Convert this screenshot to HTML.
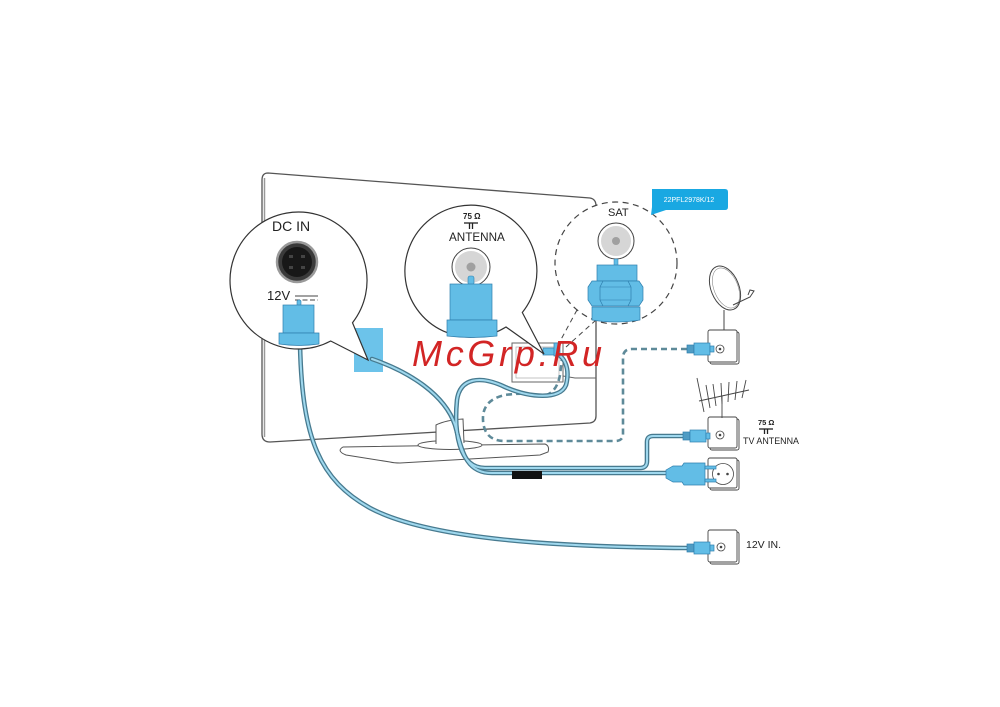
<!DOCTYPE html>
<html><head><meta charset="utf-8"><style>
html,body{margin:0;padding:0;background:#fff;}
svg{display:block;}
text{font-family:"Liberation Sans",sans-serif;}
</style></head><body>
<svg width="1000" height="707" viewBox="0 0 1000 707" xmlns="http://www.w3.org/2000/svg">
<rect width="1000" height="707" fill="#fff"/>

<!-- TV back -->
<path d="M268,173 L590,198 Q596,199 596,206 L596,416 Q596,422 590,423 L270,442 Q262,442 262,434 L262,180 Q262,173 268,173 Z" fill="#fff" stroke="#555" stroke-width="1.3"/>
<line x1="264.5" y1="178" x2="264.5" y2="437" stroke="#999" stroke-width="1.5"/>
<!-- connector panel -->
<rect x="512" y="343" width="51" height="39" fill="#fff" stroke="#666" stroke-width="1"/>
<rect x="516" y="347" width="43" height="31" fill="none" stroke="#aaa" stroke-width="0.7"/>
<polyline points="563,376 575,378 596,378" fill="none" stroke="#666" stroke-width="0.9"/>

<!-- stand -->
<path d="M343,447 L545,444 Q550,446 548,452 L540,455 L400,463 Q394,463 390,462 L346,455 Q336,451 343,447 Z" fill="#fff" stroke="#555" stroke-width="1"/>
<ellipse cx="450" cy="445" rx="32" ry="4.5" fill="#fff" stroke="#555" stroke-width="1"/>
<path d="M436,444 L436,425 Q446,420 463,419 L464,443" fill="#fff" stroke="#555" stroke-width="1"/>

<!-- blue square -->
<rect x="354" y="328" width="29" height="44" fill="#6cc3ea"/>

<!-- dashed satellite cable -->
<path d="M687,349 L632,349 Q623,349 623,358 L623,434 Q623,441 615,441 L505,441 Q484,441 483,420 Q482,400 505,395 Q525,392 540,396 Q556,396 560,375 L562,358" fill="none" stroke="#5e8a99" stroke-width="2.6" stroke-dasharray="6,4"/>

<!-- cables -->
<g fill="none" stroke-linecap="round" stroke-linejoin="round">
<g stroke="#477a8f" stroke-width="4.6">
<path d="M300,344 C302,440 320,480 370,508 C430,540 560,547 688,548"/>
<path d="M372,359 C410,372 445,395 455,425 C462,450 465,473 492,473 L668,473"/>
<path d="M548,352 C566,352 570,370 566,385 C560,400 530,398 505,387 C480,375 460,378 457,400 C454,430 458,468 485,468 L640,468 Q647,468 647,461 L647,442 Q647,436 653,436 L685,436"/>
</g>
<g stroke="#9fd8ee" stroke-width="2">
<path d="M300,344 C302,440 320,480 370,508 C430,540 560,547 688,548"/>
<path d="M372,359 C410,372 445,395 455,425 C462,450 465,473 492,473 L668,473"/>
<path d="M548,352 C566,352 570,370 566,385 C560,400 530,398 505,387 C480,375 460,378 457,400 C454,430 458,468 485,468 L640,468 Q647,468 647,461 L647,442 Q647,436 653,436 L685,436"/>
</g>
</g>
<!-- black block -->
<rect x="512" y="471" width="30" height="8" fill="#111"/>

<!-- small blue connectors at TV -->
<rect x="543" y="348" width="12" height="7" fill="#62bde6" stroke="#2f7fae" stroke-width="0.7"/>
<rect x="554" y="343" width="6" height="13" fill="#62bde6" stroke="#2f7fae" stroke-width="0.7"/>

<!-- DC IN bubble -->
<path d="M330.7,341 A68.5,68.5 0 1 1 352.5,322.7 L368,360 Z" fill="#fff" stroke="#333" stroke-width="1.2"/>
<text x="272" y="231" font-size="14" fill="#222">DC IN</text>
<circle cx="297" cy="262" r="20" fill="#3a3a3a" stroke="#9a9a9a" stroke-width="2.5"/>
<circle cx="297" cy="262" r="15" fill="#181818"/>
<rect x="289" y="255" width="4" height="3" fill="#444"/>
<rect x="301" y="255" width="4" height="3" fill="#444"/>
<rect x="289" y="266" width="4" height="3" fill="#444"/>
<rect x="301" y="266" width="4" height="3" fill="#444"/>
<text x="267" y="300" font-size="13" fill="#222">12V</text>
<line x1="295" y1="296" x2="318" y2="296" stroke="#444" stroke-width="1"/>
<line x1="295" y1="300" x2="318" y2="300" stroke="#444" stroke-width="1" stroke-dasharray="5,2.5"/>
<rect x="297" y="300" width="4" height="6" rx="1.5" fill="#62bde6" stroke="#2f7fae" stroke-width="0.6"/>
<rect x="283" y="305" width="31" height="28" fill="#62bde6" stroke="#2f7fae" stroke-width="0.7"/>
<path d="M279,333 L319,333 L319,344 Q299,347 279,344 Z" fill="#62bde6" stroke="#2f7fae" stroke-width="0.7"/>

<!-- ANTENNA bubble -->
<path d="M506,327 A66,66 0 1 1 522.3,312.5 L544,354 Z" fill="#fff" stroke="#333" stroke-width="1.2"/>
<text x="463" y="219" font-size="8" font-weight="bold" fill="#222">75 Ω</text>
<line x1="464" y1="223" x2="478" y2="223" stroke="#222" stroke-width="1.3"/>
<line x1="469.5" y1="223" x2="469.5" y2="229" stroke="#222" stroke-width="1.3"/>
<line x1="472.5" y1="223" x2="472.5" y2="229" stroke="#222" stroke-width="1.3"/>
<text x="449" y="241" font-size="11.7" fill="#222">ANTENNA</text>
<circle cx="471" cy="267" r="19" fill="#fff" stroke="#444" stroke-width="1"/>
<circle cx="471" cy="267" r="16" fill="#d6d6d6"/>
<circle cx="471" cy="267" r="4.5" fill="#a0a0a0"/>
<rect x="468" y="276" width="6" height="9" rx="2" fill="#62bde6" stroke="#2f7fae" stroke-width="0.6"/>
<rect x="450" y="284" width="42" height="36" fill="#62bde6" stroke="#2f7fae" stroke-width="0.7"/>
<path d="M447,320 L497,320 L497,336 Q472,339 447,336 Z" fill="#62bde6" stroke="#2f7fae" stroke-width="0.7"/>

<!-- SAT dashed bubble -->
<line x1="577" y1="310" x2="558" y2="345" stroke="#444" stroke-width="1" stroke-dasharray="5,4"/>
<line x1="596" y1="320" x2="566" y2="347" stroke="#444" stroke-width="1" stroke-dasharray="5,4"/>
<circle cx="616" cy="263" r="61" fill="#fff" stroke="#444" stroke-width="1.2" stroke-dasharray="6,4.5"/>
<text x="608" y="216" font-size="11" fill="#222">SAT</text>
<circle cx="616" cy="241" r="18" fill="#fff" stroke="#444" stroke-width="1"/>
<circle cx="616" cy="241" r="15" fill="#d6d6d6"/>
<circle cx="616" cy="241" r="4" fill="#a0a0a0"/>
<rect x="614" y="259" width="4" height="7" fill="#62bde6" stroke="#2f7fae" stroke-width="0.5"/>
<rect x="597" y="265" width="40" height="16" fill="#62bde6" stroke="#2f7fae" stroke-width="0.7"/>
<path d="M592,281 L639,281 L643,287 L643,300 L639,306 L592,306 L588,300 L588,287 Z" fill="#62bde6" stroke="#2f7fae" stroke-width="0.7"/>
<polyline points="603,281 600,287 600,300 603,306" fill="none" stroke="#2f7fae" stroke-width="0.7"/>
<polyline points="628,281 631,287 631,300 628,306" fill="none" stroke="#2f7fae" stroke-width="0.7"/>
<line x1="600" y1="287" x2="631" y2="287" stroke="#2f7fae" stroke-width="0.6"/>
<line x1="600" y1="300" x2="631" y2="300" stroke="#2f7fae" stroke-width="0.6"/>
<path d="M592,307 L640,307 L640,320 Q616,324 592,320 Z" fill="#62bde6" stroke="#2f7fae" stroke-width="0.7"/>

<!-- model label -->
<path d="M652,189 H725 Q728,189 728,192 V207 Q728,210 725,210 H666 L651,215 L652,207 Z" fill="#19a8e2"/>
<text x="689" y="202" font-size="7" fill="#fff" text-anchor="middle">22PFL2978K/12</text>

<!-- satellite dish -->
<ellipse cx="725" cy="288" rx="14" ry="23" transform="rotate(-22 725 288)" fill="#fff" stroke="#444" stroke-width="1"/>
<ellipse cx="726" cy="288" rx="12" ry="21" transform="rotate(-22 726 288)" fill="none" stroke="#888" stroke-width="0.6"/>
<polyline points="733,305 750,297 754,291 750,290 748,295" fill="none" stroke="#444" stroke-width="1"/>
<line x1="724" y1="310" x2="724" y2="331" stroke="#444" stroke-width="1"/>

<!-- wall plates -->
<g stroke="#444" stroke-width="0.9" fill="#fff">
<rect x="710" y="332" width="29" height="32" rx="2"/>
<rect x="708" y="330" width="29" height="32" rx="2"/>
<rect x="710" y="419" width="29" height="31" rx="2"/>
<rect x="708" y="417" width="29" height="31" rx="2"/>
<rect x="710" y="460" width="29" height="30" rx="2"/>
<rect x="708" y="458" width="29" height="30" rx="2"/>
<rect x="710" y="532" width="29" height="32" rx="2"/>
<rect x="708" y="530" width="29" height="32" rx="2"/>
</g>
<g fill="#fff" stroke="#444" stroke-width="0.8">
<circle cx="720" cy="349" r="4"/>
<circle cx="720" cy="435" r="4"/>
<circle cx="721" cy="547" r="4"/>
<circle cx="723" cy="474" r="10.5"/>
</g>
<g fill="#444">
<circle cx="720" cy="349" r="1.3"/>
<circle cx="720" cy="435" r="1.3"/>
<circle cx="721" cy="547" r="1.3"/>
<circle cx="718.5" cy="474" r="1.3"/>
<circle cx="727.5" cy="474" r="1.3"/>
</g>

<!-- small plugs -->
<g stroke="#2f7fae" stroke-width="0.7">
<rect x="687" y="345" width="7" height="8" fill="#4f9cc4"/>
<rect x="694" y="343" width="16" height="12" fill="#62bde6"/>
<rect x="710" y="346" width="4" height="6" fill="#62bde6"/>
<rect x="683" y="432" width="7" height="8" fill="#4f9cc4"/>
<rect x="690" y="430" width="16" height="12" fill="#62bde6"/>
<rect x="706" y="433" width="4" height="6" fill="#62bde6"/>
<rect x="687" y="544" width="7" height="8" fill="#4f9cc4"/>
<rect x="694" y="542" width="16" height="12" fill="#62bde6"/>
<rect x="710" y="545" width="4" height="6" fill="#62bde6"/>
<path d="M666,470 L673,466 L682,466 L684,463 L705,463 L705,485 L684,485 L682,482 L673,482 L666,478 Z" fill="#62bde6"/>
<rect x="705" y="466" width="11" height="3" fill="#62bde6"/>
<rect x="705" y="479" width="11" height="3" fill="#62bde6"/>
</g>

<!-- TV antenna -->
<g stroke="#444" stroke-width="0.9" fill="none">
<line x1="697" y1="378" x2="704" y2="412"/>
<line x1="699" y1="401" x2="749" y2="390"/>
<line x1="706" y1="385" x2="710" y2="408"/>
<line x1="713" y1="384" x2="716" y2="406"/>
<line x1="721" y1="383" x2="722" y2="404"/>
<line x1="729" y1="382" x2="728" y2="402"/>
<line x1="737" y1="381" x2="735" y2="400"/>
<line x1="746" y1="380" x2="742" y2="398"/>
<line x1="722" y1="396" x2="722" y2="418"/>
</g>
<text x="758" y="425" font-size="7.5" font-weight="bold" fill="#222">75 Ω</text>
<line x1="759" y1="429" x2="773" y2="429" stroke="#222" stroke-width="1.3"/>
<line x1="764.5" y1="429" x2="764.5" y2="434" stroke="#222" stroke-width="1.3"/>
<line x1="767.5" y1="429" x2="767.5" y2="434" stroke="#222" stroke-width="1.3"/>
<text x="743" y="444" font-size="9" fill="#222" textLength="56" lengthAdjust="spacingAndGlyphs">TV ANTENNA</text>
<text x="746" y="548" font-size="10.5" fill="#222">12V IN.</text>

<!-- watermark -->
<text x="412" y="366" font-size="36" font-style="italic" fill="#d22525" textLength="190" lengthAdjust="spacing">McGrp.Ru</text>
</svg>
</body></html>
